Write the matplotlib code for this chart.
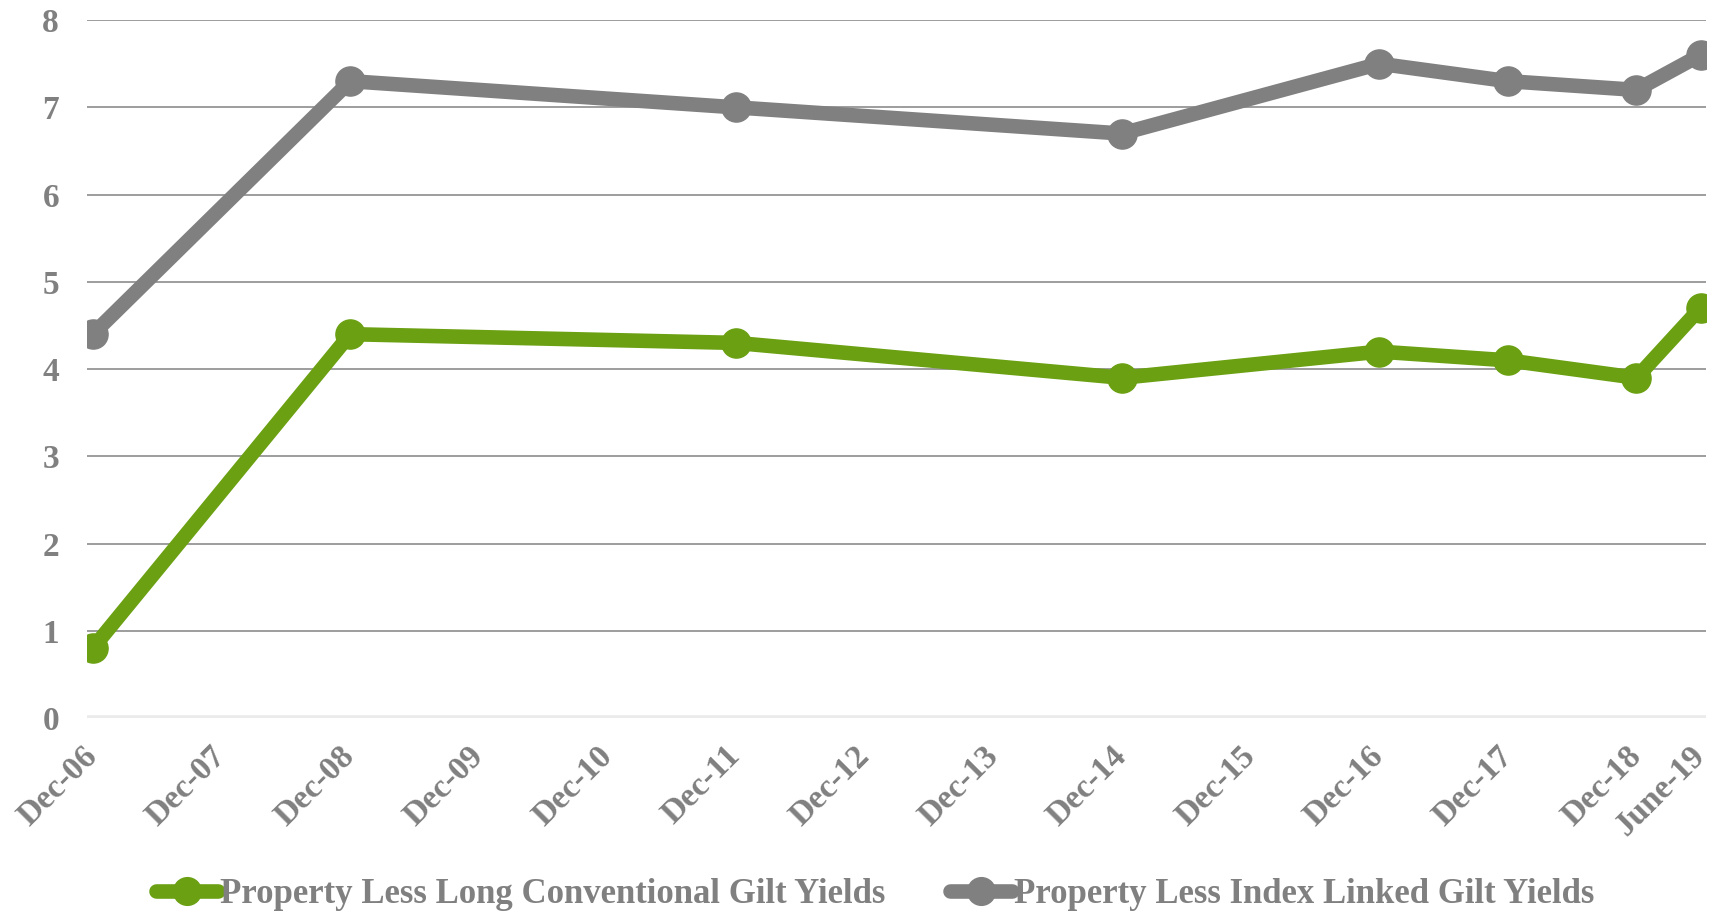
import matplotlib
matplotlib.use("Agg")
import matplotlib.pyplot as plt
import matplotlib.dates as mdates
import pandas as pd

# data
dates = ["2006-12-15", "2008-12-15", "2011-12-15", "2014-12-15",
         "2016-12-15", "2017-12-15", "2018-12-15", "2019-06-15"]
long_conv = [0.8, 4.4, 4.3, 3.9, 4.2, 4.1, 3.9, 4.7]
index_linked = [4.4, 7.3, 7.0, 6.7, 7.5, 7.3, 7.2, 7.6]
tick_dates = [f"{y}-12-15" for y in range(2006, 2019)] + ["2019-06-15"]
tick_labels = [f"Dec-{y % 100:02d}" for y in range(2006, 2019)] + ["June-19"]

GREEN = "#6aa011"
GREY = "#808080"
plt.rcParams['font.family'] = ['Liberation Serif', 'DejaVu Serif']

x = pd.to_datetime(dates)
fig = plt.figure(figsize=(17.36, 9.14), dpi=100)
ax = fig.add_axes([0.050, 0.2144, 0.933, 0.7636])

ax.plot(x, long_conv, color=GREEN, lw=10.5, marker='o', ms=21,
        solid_capstyle='round', label="Property Less Long Conventional Gilt Yields", zorder=4)
ax.plot(x, index_linked, color=GREY, lw=10.5, marker='o', ms=21,
        solid_capstyle='round', label="Property Less Index Linked Gilt Yields", zorder=3)

ax.set_ylim(0, 8)
ax.set_yticks(range(0, 9))
for v in range(1, 9):
    ax.axhline(v, color="#8c8c8c", lw=1.2, zorder=1)
ax.axhline(0, color="#ebebeb", lw=4, zorder=1)

xd = mdates.date2num(x)
margin = 17
ax.set_xlim(xd[0] - margin, xd[-1] + margin)
ax.set_xticks(mdates.date2num(pd.to_datetime(tick_dates)))
ax.set_xticklabels(tick_labels, rotation=45, ha='right', va='center',
                   rotation_mode='anchor')

for s in ax.spines.values():
    s.set_visible(False)
ax.tick_params(axis='both', length=0, colors=GREY, labelsize=24)
ax.tick_params(axis='y', pad=20)
ax.tick_params(axis='x', pad=24)
for lab in ax.get_xticklabels() + ax.get_yticklabels():
    lab.set_fontweight('bold')

leg = fig.legend(loc='center', bbox_to_anchor=(0.504, 0.021), ncol=2,
                 frameon=False, fontsize=25, handlelength=1.8, handletextpad=0.05,
                 columnspacing=1.85, markerscale=0.95)
for t in leg.get_texts():
    t.set_color(GREY)
    t.set_fontweight('bold')

fig.savefig("out.png", dpi=100)
